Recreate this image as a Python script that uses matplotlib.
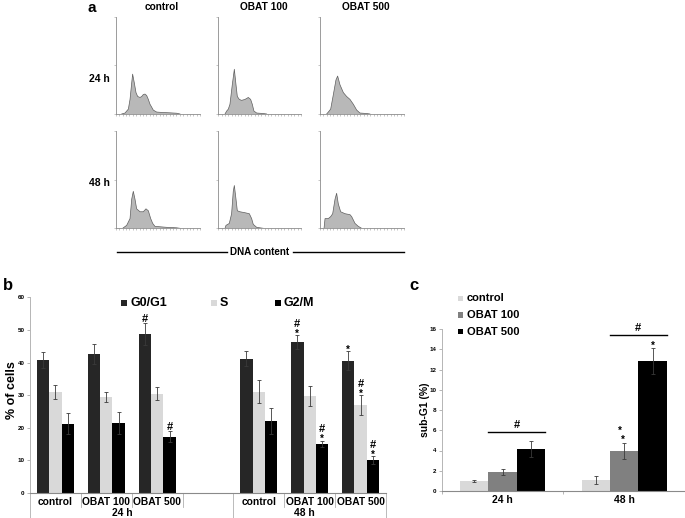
import matplotlib
matplotlib.use('Agg')
import matplotlib.pyplot as plt
from matplotlib.patches import Rectangle
from matplotlib.lines import Line2D

plt.rcParams['font.family'] = ['Liberation Sans', 'DejaVu Sans']
plt.rcParams['font.weight'] = 'bold'

# ---- panel a: DNA histograms (x = % of channel range, y = % of axis height)
treatments = ['control', 'OBAT 100', 'OBAT 500']
times = ['24 h', '48 h']

ctrl24_x = [6.7, 10.7, 14.7, 16.7, 18.7, 19.8, 21.8, 23.8, 25.8, 28.6, 30.6, 32.5, 34.5,
            36.5, 38.5, 40.5, 42.5, 44.4, 48.4, 56.3, 64.3, 72.2, 76.2]
ctrl24_y = [0, 1, 5, 15, 32, 41, 32, 22, 18, 17, 18, 20, 20.5, 19, 15, 10, 7, 4, 2, 1.5,
            1.2, 0.8, 0]
obat100_24_x = [8.1, 10.1, 12.1, 14.1, 16.9, 19.4, 21.4, 23.0, 25.4, 28.2, 32.3, 36.3,
                39.1, 41.1, 43.1, 46.4, 54.4, 58.5]
obat100_24_y = [0, 3, 5, 10, 30, 46, 30, 18, 15, 14, 15, 17, 15, 10, 3, 1, 0.5, 0]
obat500_24_x = [7.9, 9.9, 12.7, 15.9, 19.0, 21.0, 23.8, 27.8, 31.7, 35.7, 39.7, 43.7,
                47.6, 55.6, 59.5]
obat500_24_y = [0, 2, 5, 20, 35, 39, 30, 22, 18, 15, 10, 4, 1, 0.5, 0]

ctrl48_x = [7.9, 12.7, 16.7, 18.7, 20.6, 22.6, 24.6, 28.6, 32.5, 35.7, 38.5, 41.3, 43.7,
            46.4, 60.3, 72.2, 76.2]
ctrl48_y = [0, 3, 10, 30, 38, 30, 20, 17, 17, 20, 18, 10, 5, 2, 1, 0.5, 0]
obat100_48_x = [8.1, 9.3, 13.3, 16.1, 18.1, 19.4, 21.4, 23.0, 26.2, 32.3, 37.5, 40.3,
                42.3, 46.4, 54.4]
obat100_48_y = [0, 3, 5, 15, 38, 44, 30, 18, 17, 16, 15, 10, 4, 1, 0]
obat500_48_x = [4.8, 6.0, 9.9, 12.7, 15.1, 17.9, 19.8, 21.8, 24.6, 29.8, 35.7, 37.7,
                41.7, 45.6, 49.6]
obat500_48_y = [0, 10, 10, 12, 15, 30, 36, 25, 17, 15, 14, 12, 5, 2, 0]

hist_x = [[ctrl24_x, obat100_24_x, obat500_24_x], [ctrl48_x, obat100_48_x, obat500_48_x]]
hist_y = [[ctrl24_y, obat100_24_y, obat500_24_y], [ctrl48_y, obat100_48_y, obat500_48_y]]

# ---- panel b: cell cycle phases (% of cells)
phases = ['G0/G1', 'S', 'G2/M']
b_groups = ['control', 'OBAT 100', 'OBAT 500', 'control', 'OBAT 100', 'OBAT 500']
g0g1_mean = [40.7, 42.6, 48.7, 41.2, 46.2, 40.5]
g0g1_err = [2.4, 3.2, 3.3, 2.3, 2.2, 2.9]
s_mean = [31.0, 29.4, 30.5, 31.0, 29.8, 27.0]
s_err = [2.1, 1.5, 2.1, 3.5, 3.0, 3.0]
g2m_mean = [21.3, 21.5, 17.3, 22.2, 15.1, 10.0]
g2m_err = [3.2, 3.3, 1.7, 4.0, 0.9, 1.2]
# (group, phase, symbols from bottom to top)
b_marks = [(2, 0, '#'), (2, 2, '#'), (4, 0, '*#'), (4, 2, '*#'),
           (5, 0, '*'), (5, 1, '*#'), (5, 2, '*#')]

# ---- panel c: sub-G1 (%)
c_times = ['24 h', '48 h']
c_series = ['control', 'OBAT 100', 'OBAT 500']
subg1_control = [0.99, 1.09]
subg1_control_err = [0.12, 0.35]
subg1_obat100 = [1.9, 3.95]
subg1_obat100_err = [0.3, 0.8]
subg1_obat500 = [4.15, 12.87]
subg1_obat500_err = [0.75, 1.3]

W, H = 685, 518
fig = plt.figure(figsize=(W / 100, H / 100), dpi=100)


def rect(x0, y0, x1, y1):
    return [x0 / W, 1 - y1 / H, (x1 - x0) / W, (y1 - y0) / H]


def ftext(x, y, s, **kw):
    fig.text(x / W, 1 - y / H, s, **kw)


def fsquare(x, y, w, h, color):
    fig.add_artist(Rectangle((x / W, 1 - (y + h / 2) / H), w / W, h / H,
                             transform=fig.transFigure, color=color, lw=0))


def fline(x0, x1, y):
    fig.add_artist(Line2D([x0 / W, x1 / W], [1 - y / H] * 2, color='black', lw=1,
                          transform=fig.transFigure))


EM = {'#': 0.36, '*': 0.60}
SIZE = {'#': 8, '*': 7}


def mark(ax, x, y, sym, px_above):
    # put the ink centre of sym px_above pixels above (x, y)
    size = SIZE[sym]
    off = px_above - EM[sym] * size * 100 / 72
    ax.annotate(sym, xy=(x, y), xytext=(0, off * 0.72), textcoords='offset points',
                ha='center', va='baseline', fontsize=size, annotation_clip=False)


# ---------------- panel a
col_px = [(116, 200), (218.3, 301), (320, 404)]
row_px = [(16.7, 114), (131, 228.3)]
for r in range(2):
    for c in range(3):
        ax = fig.add_axes(rect(col_px[c][0], row_px[r][0], col_px[c][1], row_px[r][1]))
        ax.fill_between(hist_x[r][c], hist_y[r][c], 0, facecolor='#b8b8b8', lw=0)
        ax.plot(hist_x[r][c], hist_y[r][c], color='#5e5e5e', lw=0.5)
        ax.set_xlim(0, 100)
        ax.set_ylim(0, 100)
        for s in ['top', 'right']:
            ax.spines[s].set_visible(False)
        for s in ['left', 'bottom']:
            ax.spines[s].set_color('#8c8c8c')
            ax.spines[s].set_linewidth(0.6)
        ax.set_xticks(range(0, 101, 4))
        ax.set_yticks([0, 50, 100])
        ax.tick_params(length=1.2, width=0.4, color='#999999',
                       labelbottom=False, labelleft=False)
        ax.patch.set_alpha(0)

ftext(92, 0.5, 'a', fontsize=11, ha='center', va='top')
for c, name in enumerate(treatments):
    ftext((col_px[c][0] + col_px[c][1]) / 2 + 4, 6.5, name, fontsize=7.3,
          ha='center', va='center')
for r, t in enumerate(times):
    ftext(99, [79, 183][r], t, fontsize=7.5, ha='center', va='center')

fline(116.7, 226.7, 252.3)
fline(292.7, 404, 252.3)
ftext(259.7, 252.3, 'DNA content', fontsize=7.1, ha='center', va='center')

# ---------------- panel b
axb = fig.add_axes(rect(30, 297.3, 386, 493))
slots = [0.5, 1.5, 2.5, 4.5, 5.5, 6.5]
bw = 0.244
b_means = [g0g1_mean, s_mean, g2m_mean]
b_errs = [g0g1_err, s_err, g2m_err]
b_colors = ['#262626', '#d9d9d9', '#000000']
for p in range(3):
    xs = [s + (p - 1) * bw for s in slots]
    axb.bar(xs, b_means[p], width=bw, color=b_colors[p], lw=0, zorder=2)
    axb.errorbar(xs, b_means[p], yerr=b_errs[p], fmt='none', ecolor='#3a3a3a',
                 elinewidth=0.6, capsize=1.2, capthick=0.6, zorder=3)
for g, p, syms in b_marks:
    x = slots[g] + (p - 1) * bw
    top = b_means[p][g] + b_errs[p][g]
    if syms == '#':
        mark(axb, x, top, '#', 5.2)
    elif syms == '*':
        mark(axb, x, top, '*', 4.4)
    else:
        mark(axb, x, top, '*', 4.5)
        mark(axb, x, top, '#', 12.5)

axb.set_xlim(0, 7)
axb.set_ylim(0, 60)
axb.set_yticks(range(0, 61, 10))
axb.set_xticks([])
axb.tick_params(axis='y', length=2, width=0.5, color='#999999', labelsize=4.5, pad=2)
for s in ['top', 'right']:
    axb.spines[s].set_visible(False)
axb.spines['left'].set_color('#b5b5b5')
axb.spines['left'].set_linewidth(0.7)
axb.spines['bottom'].set_color('#8a8a8a')
axb.spines['bottom'].set_linewidth(0.8)
tr = axb.get_xaxis_transform()
for b in range(8):
    low = -0.128 if b in (0, 4, 7) else -0.07
    axb.plot([b, b], [0, low], transform=tr, color='#b0b0b0', lw=0.6, clip_on=False)
for s, name in zip(slots, b_groups):
    axb.text(s, -0.044, name, transform=tr, fontsize=7.4, ha='center', va='center')
axb.text(1.82, -0.103, '24 h', transform=tr, fontsize=7.4, ha='center', va='center')
axb.text(5.40, -0.103, '48 h', transform=tr, fontsize=7.4, ha='center', va='center')
ftext(12, 390, '% of cells', fontsize=9, rotation=90, ha='center', va='center')
ftext(8, 286, 'b', fontsize=12, ha='center', va='center')

leg_b = [(120.7, 130.5), (210.7, 219.5), (275, 284)]
for (sx, tx), name, col in zip(leg_b, phases, b_colors):
    fsquare(sx, 302.5, 6, 6, col)
    ftext(tx, 302.5, name, fontsize=9, ha='left', va='center')

# ---------------- panel c
axc = fig.add_axes(rect(441.7, 329, 685, 491))
cw = 0.233
c_vals = [subg1_control, subg1_obat100, subg1_obat500]
c_errs = [subg1_control_err, subg1_obat100_err, subg1_obat500_err]
c_colors = ['#d9d9d9', '#808080', '#000000']
centers = [0.5, 1.5]
for k in range(3):
    xs = [c0 + (k - 1) * cw for c0 in centers]
    axc.bar(xs, c_vals[k], width=cw, color=c_colors[k], lw=0, zorder=2)
    axc.errorbar(xs, c_vals[k], yerr=c_errs[k], fmt='none', ecolor='#3a3a3a',
                 elinewidth=0.6, capsize=1.2, capthick=0.6, zorder=3)
axc.set_xlim(0, 2)
axc.set_ylim(0, 16)
axc.set_yticks(range(0, 17, 2))
axc.set_xticks([0, 1, 2])
axc.set_xticklabels([])
axc.set_xticks(centers, minor=True)
axc.set_xticklabels(c_times, minor=True, fontsize=7.5)
axc.tick_params(axis='x', which='minor', length=0, pad=3)
axc.tick_params(axis='x', which='major', length=2, width=0.5, color='#999999')
axc.tick_params(axis='y', length=2, width=0.5, color='#999999', labelsize=4.5, pad=2)
for s in ['top', 'right']:
    axc.spines[s].set_visible(False)
axc.spines['left'].set_color('#b5b5b5')
axc.spines['left'].set_linewidth(0.7)
axc.spines['bottom'].set_color('#8a8a8a')
axc.spines['bottom'].set_linewidth(0.8)

# significance bars over OBAT 100 / OBAT 500
for c0, ly in zip(centers, [5.8, 15.4]):
    axc.plot([c0 - cw / 2, c0 + 1.5 * cw], [ly, ly], color='black', lw=1, clip_on=False)
    mark(axc, c0 + cw / 2, ly, '#', 8)
mark(axc, 1.5 + cw, subg1_obat500[1] + subg1_obat500_err[1], '*', 4.5)
top100 = subg1_obat100[1] + subg1_obat100_err[1]
mark(axc, 1.5 - 0.013, top100, '*', 6)
mark(axc, 1.5 - 0.035, top100, '*', 14.4)

ftext(425.5, 410, 'sub-G1 (%)', fontsize=7.5, rotation=90, ha='center', va='center')
ftext(413.5, 286, 'c', fontsize=12, ha='center', va='center')
for k, (name, col) in enumerate(zip(c_series, c_colors)):
    y = 298.3 + k * 16.7
    fsquare(458, y, 5.5, 5.5, col)
    ftext(467, y, name, fontsize=8, ha='left', va='center')

fig.savefig('out.png', dpi=100)
